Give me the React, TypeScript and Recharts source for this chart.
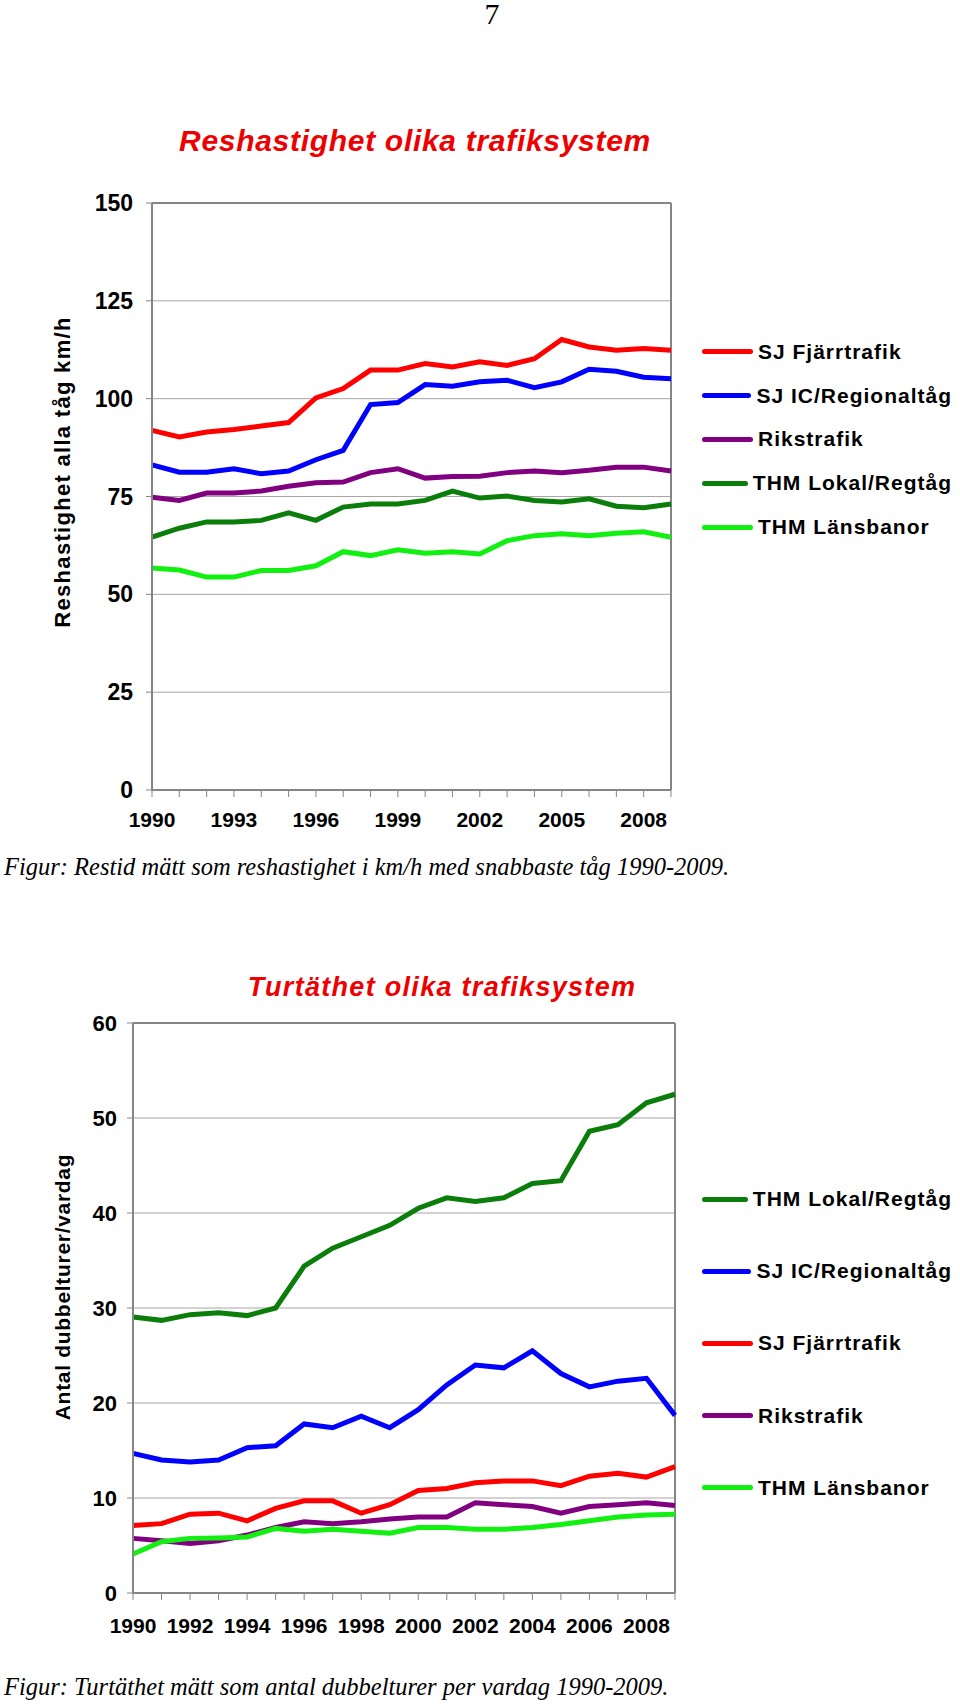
import React from 'react';
import { LineChart, Line, XAxis, YAxis, CartesianGrid, ReferenceLine, Legend } from 'recharts';

const years = [1990, 1991, 1992, 1993, 1994, 1995, 1996, 1997, 1998, 1999, 2000, 2001, 2002, 2003, 2004, 2005, 2006, 2007, 2008, 2009];

// Chart 1 – Reshastighet (km/h)
const speedSJFjarr = [91.9, 90.2, 91.5, 92.1, 93.0, 93.9, 100.2, 102.6, 107.3, 107.3, 109.0, 108.1, 109.4, 108.5, 110.2, 115.1, 113.2, 112.4, 112.8, 112.4];
const speedSJIC = [83.1, 81.2, 81.2, 82.1, 80.8, 81.5, 84.4, 86.8, 98.5, 99.0, 103.6, 103.2, 104.3, 104.7, 102.8, 104.3, 107.5, 107.0, 105.5, 105.1];
const speedRiks = [74.8, 74.0, 75.9, 75.9, 76.4, 77.6, 78.5, 78.7, 81.1, 82.1, 79.7, 80.1, 80.2, 81.1, 81.5, 81.1, 81.7, 82.5, 82.5, 81.5];
const speedTHMLokal = [64.6, 66.9, 68.5, 68.5, 68.9, 70.8, 68.9, 72.3, 73.1, 73.1, 74.0, 76.4, 74.6, 75.1, 74.0, 73.6, 74.4, 72.5, 72.1, 73.1];
const speedTHMLans = [56.7, 56.2, 54.4, 54.4, 56.1, 56.1, 57.3, 60.9, 59.9, 61.4, 60.5, 60.9, 60.3, 63.7, 65.0, 65.5, 65.0, 65.6, 66.0, 64.6];
const speedTicks = [0, 25, 50, 75, 100, 125, 150];
const speedLegendOrder = ['SJ Fjärrtrafik', 'SJ IC/Regionaltåg', 'Rikstrafik', 'THM Lokal/Regtåg', 'THM Länsbanor'];

// Chart 2 – Turtäthet (dubbelturer per vardag)
const freqTHMLokal = [29.05, 28.7, 29.3, 29.5, 29.2, 30.0, 34.4, 36.3, 37.5, 38.7, 40.5, 41.6, 41.2, 41.6, 43.1, 43.4, 48.6, 49.3, 51.6, 52.5];
const freqSJIC = [14.7, 14.0, 13.8, 14.0, 15.3, 15.5, 17.8, 17.4, 18.6, 17.4, 19.3, 21.9, 24.0, 23.7, 25.5, 23.1, 21.7, 22.3, 22.6, 18.7];
const freqSJFjarr = [7.1, 7.3, 8.3, 8.4, 7.6, 8.9, 9.7, 9.7, 8.4, 9.3, 10.8, 11.0, 11.6, 11.8, 11.8, 11.3, 12.3, 12.6, 12.2, 13.3];
const freqRiks = [5.75, 5.5, 5.2, 5.5, 6.1, 6.9, 7.5, 7.3, 7.5, 7.8, 8.0, 8.0, 9.5, 9.3, 9.1, 8.4, 9.1, 9.3, 9.5, 9.2];
const freqTHMLans = [4.1, 5.4, 5.75, 5.8, 5.9, 6.8, 6.5, 6.7, 6.5, 6.3, 6.9, 6.9, 6.7, 6.7, 6.9, 7.2, 7.6, 8.0, 8.2, 8.3];
const freqTicks = [0, 10, 20, 30, 40, 50, 60];
const freqLegendOrder = ['THM Lokal/Regtåg', 'SJ IC/Regionaltåg', 'SJ Fjärrtrafik', 'Rikstrafik', 'THM Länsbanor'];

const C_RED = '#ff0000';
const C_BLUE = '#0000ff';
const C_PURPLE = '#800080';
const C_DGREEN = '#0b7d0b';
const C_LIME = '#11f011';

const speedData = years.map((y, i) => ({
  year: y,
  sjf: speedSJFjarr[i],
  sjic: speedSJIC[i],
  riks: speedRiks[i],
  thml: speedTHMLokal[i],
  thmla: speedTHMLans[i],
}));

const freqData = years.map((y, i) => ({
  year: y,
  thml: freqTHMLokal[i],
  sjic: freqSJIC[i],
  sjf: freqSJFjarr[i],
  riks: freqRiks[i],
  thmla: freqTHMLans[i],
}));

const SANS = '"Liberation Sans", Arial, Helvetica, sans-serif';
const SERIF = '"Liberation Serif", "Times New Roman", serif';
const GRID = '#a6a6a6';
const BORDER = '#858585';

function makeLegend(rowH: number, order: string[]) {
  return (props: any) => {
    const payload = [...(props.payload || [])].sort(
      (a: any, b: any) => order.indexOf(String(a.value)) - order.indexOf(String(b.value))
    );
    return (
      <div style={{ fontFamily: SANS }}>
        {payload.map((e: any) => (
          <div key={e.value} style={{ height: rowH, display: 'flex', alignItems: 'center' }}>
            <div style={{ width: 51, height: 5, borderRadius: 3, background: e.color, marginRight: 5 }} />
            <span style={{ fontSize: 21, fontWeight: 'bold', color: '#000', letterSpacing: 1, whiteSpace: 'nowrap' }}>{e.value}</span>
          </div>
        ))}
      </div>
    );
  };
}

function RotLabel({ cx, cy, text, size, spacing }: { cx: number; cy: number; text: string; size: number; spacing: number }) {
  return (
    <svg style={{ position: 'absolute', left: 0, top: 0, overflow: 'visible' }} width={1} height={1}>
      <text
        x={cx}
        y={cy}
        transform={`rotate(-90 ${cx} ${cy})`}
        textAnchor="middle"
        dominantBaseline="central"
        fontSize={size}
        fontWeight="bold"
        letterSpacing={spacing}
        fontFamily={SANS}
        fill="#000"
      >
        {text}
      </text>
    </svg>
  );
}

export default function App() {
  const speedFmt = (v: number) => ((v - 1990) % 3 === 0 ? String(v) : '');
  const freqFmt = (v: number) => ((v - 1990) % 2 === 0 ? String(v) : '');
  return (
    <div style={{ position: 'absolute', left: 0, top: 0, width: 960, height: 1707, background: '#fff', fontFamily: SANS }}>
      <div style={{ position: 'absolute', left: 442, top: -1, width: 100, textAlign: 'center', fontFamily: SERIF, fontSize: 30, lineHeight: '30px' }}>7</div>

      {/* Chart 1 */}
      <div style={{ position: 'absolute', left: 115, top: 126, width: 600, textAlign: 'center', color: '#ee0000', fontSize: 30, lineHeight: '30px', fontWeight: 'bold', fontStyle: 'italic', letterSpacing: 0.7 }}>
        Reshastighet olika trafiksystem
      </div>
      <div style={{ position: 'absolute', left: 0, top: 0 }}>
        <LineChart width={960} height={860} data={speedData} margin={{ top: 203, right: 289, bottom: 20, left: 0 }}>
          <CartesianGrid horizontal vertical={false} stroke={GRID} strokeWidth={1} />
          <XAxis
            dataKey="year"
            type="number"
            domain={[1990, 2009]}
            ticks={years}
            interval={0}
            tickFormatter={speedFmt}
            height={50}
            tickSize={7}
            tickMargin={15}
            axisLine={{ stroke: BORDER, strokeWidth: 2 }}
            tickLine={{ stroke: BORDER }}
            tick={{ fontSize: 21, fontWeight: 'bold', fill: '#000', fontFamily: SANS }}
          />
          <YAxis
            type="number"
            domain={[0, 150]}
            ticks={speedTicks}
            interval={0}
            width={152}
            tickSize={6}
            tickMargin={13}
            axisLine={{ stroke: BORDER, strokeWidth: 2 }}
            tickLine={{ stroke: BORDER }}
            tick={{ fontSize: 23, fontWeight: 'bold', fill: '#000', fontFamily: SANS }}
          />
          <ReferenceLine y={150} stroke={BORDER} strokeWidth={2} />
          <ReferenceLine x={2009} stroke={BORDER} strokeWidth={2} />
          <Legend
            layout="vertical"
            align="center"
            verticalAlign="middle"
            content={makeLegend(43.8, speedLegendOrder)}
            wrapperStyle={{ left: 702, top: 330, width: 250 }}
          />
          <Line type="linear" dataKey="sjf" name="SJ Fjärrtrafik" stroke={C_RED} strokeWidth={5} dot={false} isAnimationActive={false} />
          <Line type="linear" dataKey="sjic" name="SJ IC/Regionaltåg" stroke={C_BLUE} strokeWidth={5} dot={false} isAnimationActive={false} />
          <Line type="linear" dataKey="riks" name="Rikstrafik" stroke={C_PURPLE} strokeWidth={5} dot={false} isAnimationActive={false} />
          <Line type="linear" dataKey="thml" name="THM Lokal/Regtåg" stroke={C_DGREEN} strokeWidth={5} dot={false} isAnimationActive={false} />
          <Line type="linear" dataKey="thmla" name="THM Länsbanor" stroke={C_LIME} strokeWidth={5} dot={false} isAnimationActive={false} />
        </LineChart>
      </div>
      <RotLabel cx={62} cy={472} text="Reshastighet alla tåg km/h" size={22} spacing={1.3} />
      <div style={{ position: 'absolute', left: 4, top: 855, fontFamily: SERIF, fontStyle: 'italic', fontSize: 24.5, lineHeight: '24px', whiteSpace: 'nowrap' }}>
        Figur: Restid mätt som reshastighet i km/h med snabbaste tåg 1990-2009.
      </div>

      {/* Chart 2 */}
      <div style={{ position: 'absolute', left: 142, top: 974, width: 600, textAlign: 'center', color: '#ee0000', fontSize: 27, lineHeight: '27px', fontWeight: 'bold', fontStyle: 'italic', letterSpacing: 1.3 }}>
        Turtäthet olika trafiksystem
      </div>
      <div style={{ position: 'absolute', left: 0, top: 900 }}>
        <LineChart width={960} height={760} data={freqData} margin={{ top: 123, right: 285, bottom: 17, left: 0 }}>
          <CartesianGrid horizontal vertical={false} stroke={GRID} strokeWidth={1} />
          <XAxis
            dataKey="year"
            type="number"
            domain={[1990, 2009]}
            ticks={years}
            interval={0}
            tickFormatter={freqFmt}
            height={50}
            tickSize={7}
            tickMargin={18}
            axisLine={{ stroke: BORDER, strokeWidth: 2 }}
            tickLine={{ stroke: BORDER }}
            tick={{ fontSize: 21, fontWeight: 'bold', fill: '#000', fontFamily: SANS }}
          />
          <YAxis
            type="number"
            domain={[0, 60]}
            ticks={freqTicks}
            interval={0}
            width={133}
            tickSize={6}
            tickMargin={10}
            axisLine={{ stroke: BORDER, strokeWidth: 2 }}
            tickLine={{ stroke: BORDER }}
            tick={{ fontSize: 22, fontWeight: 'bold', fill: '#000', fontFamily: SANS }}
          />
          <ReferenceLine y={60} stroke={BORDER} strokeWidth={2} />
          <ReferenceLine x={2009} stroke={BORDER} strokeWidth={2} />
          <Legend
            layout="vertical"
            align="center"
            verticalAlign="middle"
            content={makeLegend(72.2, freqLegendOrder)}
            wrapperStyle={{ left: 702, top: 263, width: 250 }}
          />
          <Line type="linear" dataKey="thml" name="THM Lokal/Regtåg" stroke={C_DGREEN} strokeWidth={5} dot={false} isAnimationActive={false} />
          <Line type="linear" dataKey="sjic" name="SJ IC/Regionaltåg" stroke={C_BLUE} strokeWidth={5} dot={false} isAnimationActive={false} />
          <Line type="linear" dataKey="sjf" name="SJ Fjärrtrafik" stroke={C_RED} strokeWidth={5} dot={false} isAnimationActive={false} />
          <Line type="linear" dataKey="riks" name="Rikstrafik" stroke={C_PURPLE} strokeWidth={5} dot={false} isAnimationActive={false} />
          <Line type="linear" dataKey="thmla" name="THM Länsbanor" stroke={C_LIME} strokeWidth={5} dot={false} isAnimationActive={false} />
        </LineChart>
      </div>
      <RotLabel cx={62} cy={1287} text="Antal dubbelturer/vardag" size={21} spacing={0.7} />
      <div style={{ position: 'absolute', left: 4, top: 1675, fontFamily: SERIF, fontStyle: 'italic', fontSize: 24.5, lineHeight: '24px', whiteSpace: 'nowrap' }}>
        Figur: Turtäthet mätt som antal dubbelturer per vardag 1990-2009.
      </div>
    </div>
  );
}
